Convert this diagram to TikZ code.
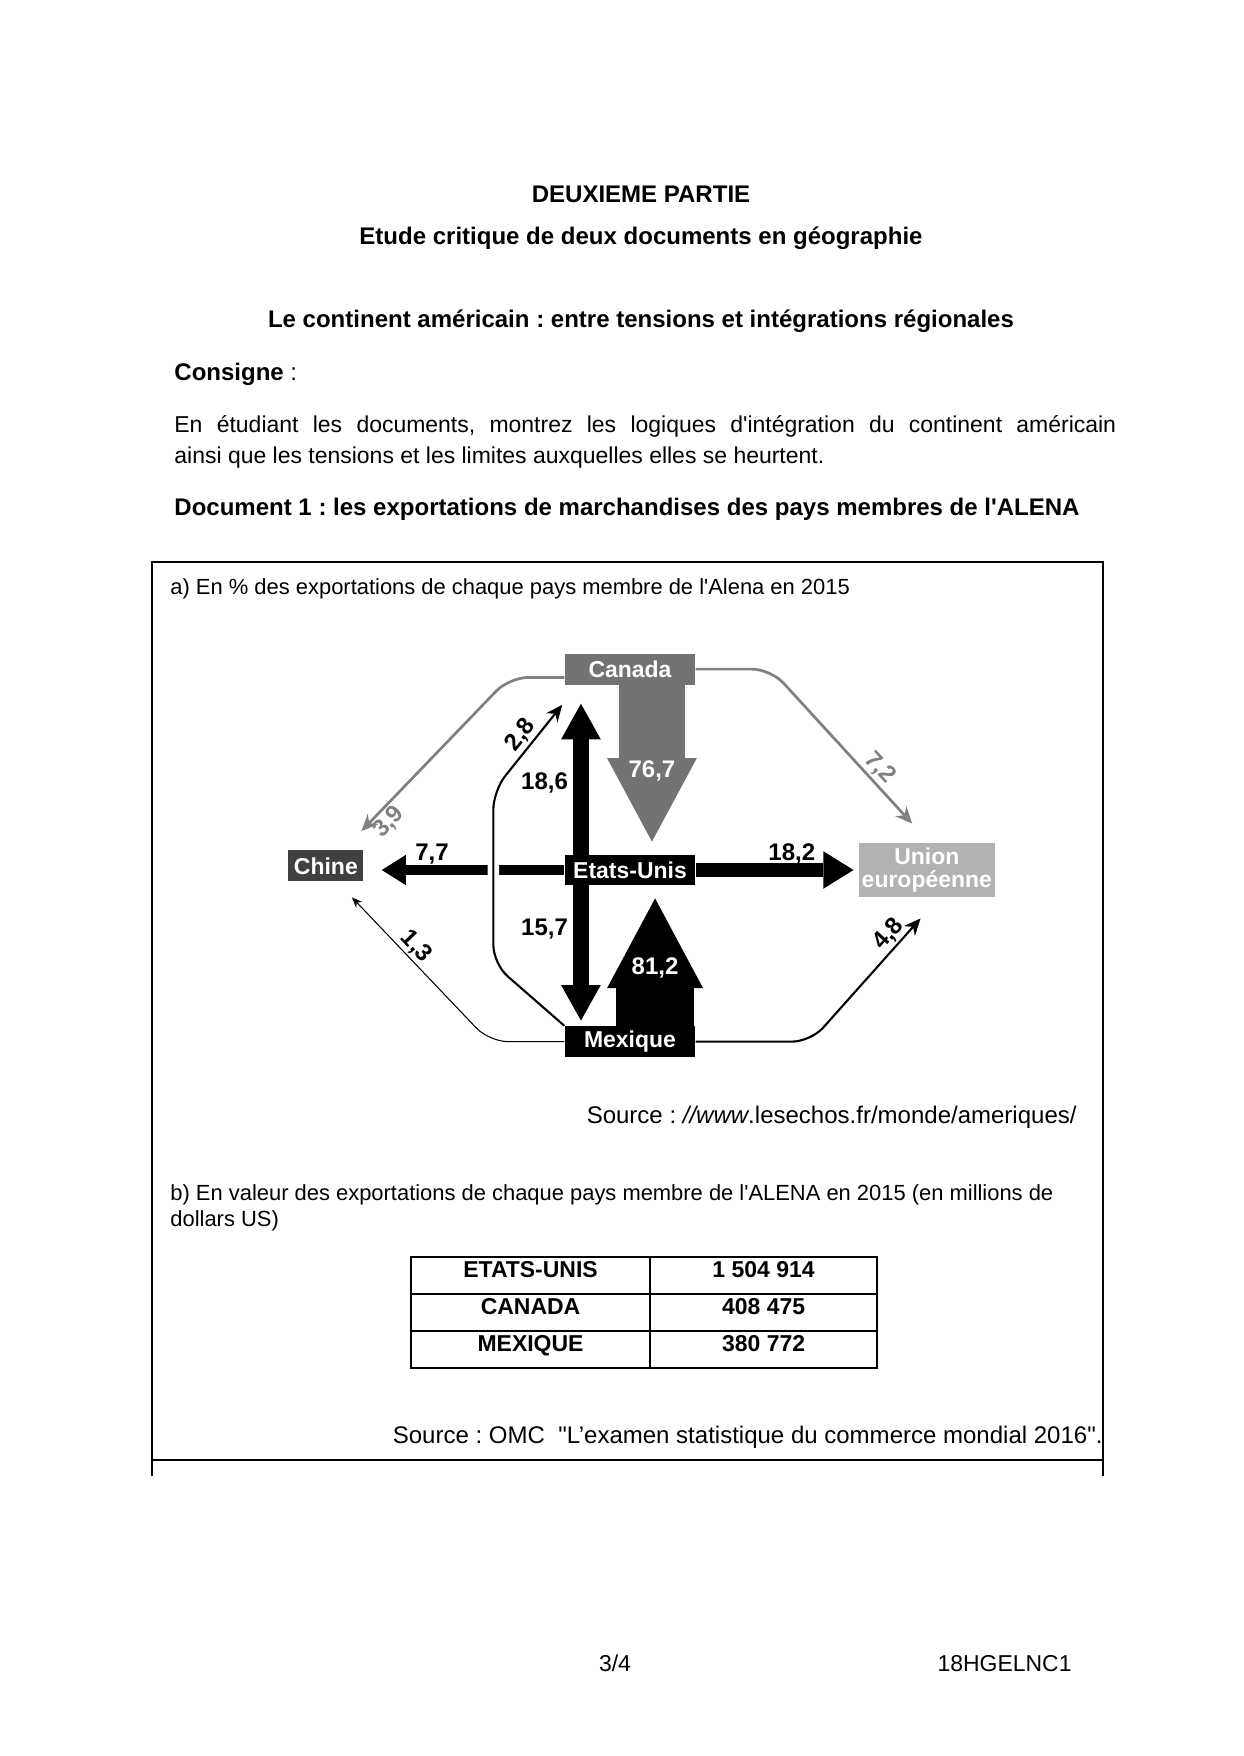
\documentclass[tikz,border=0pt]{standalone}
\usepackage{fontspec}
\setmainfont{Liberation Sans}[Ligatures=TeXOff]
\usetikzlibrary{positioning,calc,arrows.meta,backgrounds}
\frenchspacing

\begin{document}
\begin{tikzpicture}[x=0.4789pt, y=-0.4789pt,
    titre/.style={font=\bfseries\fontsize{11.5}{13}\selectfont, inner sep=0pt, text height=8pt, text depth=2.5pt},
    texte/.style={font=\fontsize{11}{13}\selectfont, inner sep=0pt},
    petit/.style={font=\fontsize{10.5}{12}\selectfont, inner sep=0pt},
    source/.style={font=\fontsize{11.5}{14}\selectfont, inner sep=0pt},
    cellule/.style={draw, line width=0.7pt, outer sep=0pt, inner sep=0pt, minimum height=17.7pt, text height=10pt, text depth=7.7pt, font=\bfseries\fontsize{11}{13}\selectfont},
    cadre/.style={line width=0.8pt},
    pays/.style={rectangle, fill=black, text=white, minimum width=62.5pt, minimum height=14.8pt, inner sep=1pt, font=\bfseries\fontsize{11}{12}\selectfont},
    num/.style={font=\bfseries\fontsize{11.5}{13}\selectfont, inner sep=1pt},
    grosse/.style n args={3}{line width=#1, -{Triangle[width=#2, length=#3, line width=0pt]}},
    flux/.style={line width=1pt, rounded corners=9pt, -{Stealth[length=8pt, width=7pt]}},
    fluxfin/.style={line width=0.5pt, rounded corners=9pt, -{Stealth[length=5pt, width=4pt]}},
    fluxgris/.style={black!50, line width=1.3pt, rounded corners=9pt, -{Stealth[length=8pt, width=7pt]}},
  ]
  \useasboundingbox (0,0) rectangle (1243,1756);

  % en-tete
  \node [titre, anchor=base] (partie) at (641,203) {DEUXIEME PARTIE};
  \node [titre, below=9pt of partie] (etude) {Etude critique de deux documents en géographie};
  \node [titre, below=29pt of etude] (sujet) {Le continent américain : entre tensions et intégrations régionales};
  \node [titre, anchor=base west] (consigne) at (174,380) {Consigne \mdseries:};
  \node [texte, font=\fontsize{11}{15.3}\selectfont, text width=451pt, align=justify, anchor=base west] (enonce) at (174,432)
    {En étudiant les documents, montrez les logiques d'intégration du continent américain\linebreak ainsi que les tensions et les limites auxquelles elles se heurtent.};
  \node [titre, anchor=base west] (doc) at (174,515) {Document 1 : les exportations de marchandises des pays membres de l'ALENA};

  % cadre
  \draw [cadre] (152,1476) -- (152,562) -- (1103,562) -- (1103,1476);
  \draw [cadre] (152,1460) -- (1103,1460);

  \node [petit, anchor=base west] (parta) at (170,594) {a) En \% des exportations de chaque pays membre de l'Alena en 2015};

  % schema
  \node [pays] (usa) at (630,870) {Etats-Unis};
  \node [pays, fill=black!55, above=81pt of usa] (canada) {Canada};
  \node [pays, below=67pt of usa] (mexique) {Mexique};
  \node [pays, fill=black!75, minimum width=36pt, left=96pt of usa, yshift=2pt] (chine) {Chine};
  \node [pays, fill=black!30, minimum width=65pt, minimum height=26pt, align=center, font=\bfseries\fontsize{11}{11}\selectfont, right=78pt of usa] (ue) {Union\\européenne};

  \begin{scope}[on background layer]
    \draw [grosse={32pt}{43pt}{40pt}, black!55] ([xshift=10.5pt]canada.south) -- ([xshift=10.5pt, yshift=6pt]usa.north) node [num, text=white, pos=0.55] {76,7};
    \draw [grosse={37pt}{46pt}{43pt}] ([xshift=12pt]mexique.north) -- ([xshift=12pt, yshift=-6pt]usa.south) node [num, text=white, pos=0.45] {81,2};
    \draw [grosse={5pt}{14.5pt}{11.5pt}, shorten >=8.6pt] (usa.west) -- (usa.west -| chine.east) node [num, pos=0.66, above=-0.5pt] {7,7};
    \draw [grosse={7pt}{18pt}{14.5pt}, shorten >=2.4pt] (usa.east) -- (usa.east -| ue.west) node [num, pos=0.59, above=-1.5pt] {18,2};
    \draw [flux, preaction={draw, white, line width=5.5pt, -}] (mexique.north west) -- ++(-71,-62) -- ++(0,-173) -- ([xshift=-1pt, yshift=-9.5pt]canada.south west) node [num, pos=0.55, sloped, above] {2,8};
    \draw [line width=7.5pt, {Triangle[width=19pt, length=17pt, line width=0pt]}-{Triangle[width=19pt, length=17pt, line width=0pt]}] ([xshift=-23.5pt, yshift=-9pt]canada.south) -- ([xshift=-23.5pt, yshift=2.5pt]mexique.north)
      node [num, pos=0.25, left=1.5pt] {18,6}
      node [num, pos=0.71, left=1.5pt] {15,7};
    \draw [fluxfin] (mexique.west) -- ++(-75,0) -- ([xshift=12.5pt, yshift=-7.5pt]chine.south) node [num, pos=0.6, sloped, above] {1,3};
    \draw [fluxgris] ([yshift=-4pt]canada.west) -- ++(-55,0) -- ([xshift=17pt, yshift=9pt]chine.north) node [num, pos=0.88, sloped, below] {3,9};
    \draw [fluxgris] (canada.east) -- ++(75,0) -- ([xshift=-7pt, yshift=9pt]ue.north) node [num, pos=0.7, sloped, above] {7,2};
    \draw [flux] (mexique.east) -- ++(115,0) -- ([xshift=-3pt, yshift=-10pt]ue.south) node [num, pos=0.8, sloped, above] {4,8};
  \end{scope}

  \node [source, anchor=base east] (src1) at (1077,1123) {Source : \textit{//www}.lesechos.fr/monde/ameriques/};

  % tableau
  \node [petit, align=left, anchor=base west] (partb) at (170,1226) {b) En valeur des exportations de chaque pays membre de l'ALENA en 2015 (en millions de\\dollars US)};
  \node [cellule, minimum width=114.5pt, anchor=north west] (us) at (411,1257) {ETATS-UNIS};
  \node [cellule, minimum width=108.7pt, right=0pt of us] (usval) {1 504 914};
  \node [cellule, minimum width=114.5pt, below=0pt of us] (ca) {CANADA};
  \node [cellule, minimum width=108.7pt, right=0pt of ca] (caval) {408 475};
  \node [cellule, minimum width=114.5pt, below=0pt of ca] (mx) {MEXIQUE};
  \node [cellule, minimum width=108.7pt, right=0pt of mx] (mxval) {380 772};
  \node [source, anchor=base east] (src2) at (1103,1443) {Source : OMC \ "L’examen statistique du commerce mondial 2016".};

  % pied de page
  \node [texte, anchor=base] (page) at (615,1671) {3/4};
  \node [texte, anchor=base east] (code) at (1072,1671) {18HGELNC1};
\end{tikzpicture}
\end{document}
